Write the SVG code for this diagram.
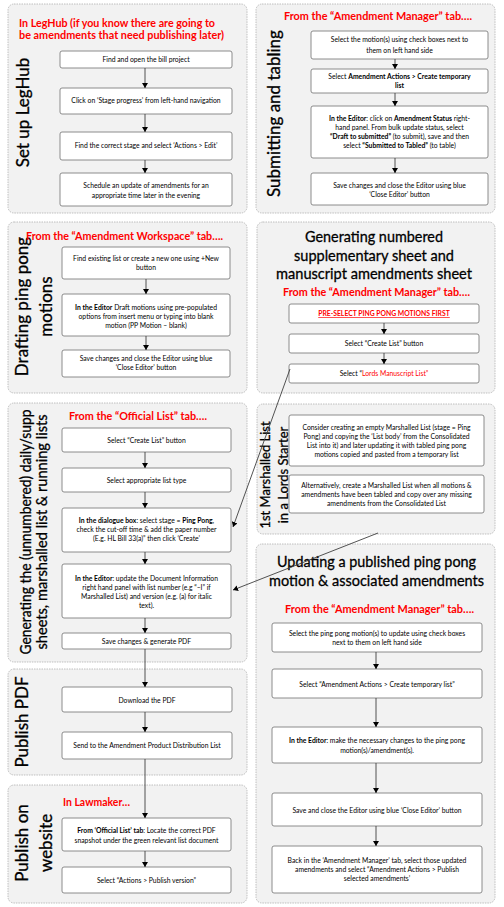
<svg xmlns="http://www.w3.org/2000/svg" width="504" height="907" viewBox="0 0 504 907">
<defs>
<marker id="ah" markerWidth="6" markerHeight="6" refX="5" refY="3" orient="auto" markerUnits="userSpaceOnUse">
<path d="M0,0 L5,3 L0,6 Z" fill="#000"/>
</marker>
<style>
.panel{fill:#f2f2f2;stroke:#b0b0b0;stroke-width:0.8;stroke-dasharray:1.5 1}
.box{fill:#fff;stroke:#7f7f7f;stroke-width:0.9}
.t{font-family:Lato,"Liberation Sans",sans-serif;font-size:6.8px;text-anchor:middle;fill:#000}
.b{font-weight:bold}
.red{font-family:Lato,"Liberation Sans",sans-serif;font-weight:bold;font-size:11px;fill:#ff0000}
.vt{font-family:Lato,"Open Sans",sans-serif;font-size:17px;text-anchor:middle;fill:#000;stroke:#000;stroke-width:0.3}
.ht{font-family:Lato,"Open Sans",sans-serif;font-size:16px;text-anchor:middle;fill:#000;stroke:#000;stroke-width:0.3}
.c{stroke:#404040;stroke-width:0.9;fill:none;marker-end:url(#ah)}
</style>
</defs>
<rect width="504" height="907" fill="#fff"/>

<!-- Panel 1 -->
<g id="panel-setup">
<rect class="panel" x="8" y="4" width="239" height="209" rx="6"/>
<text class="red" x="19" y="27" textLength="196" lengthAdjust="spacingAndGlyphs">In LegHub (if you know there are going to</text>
<text class="red" x="19" y="39" textLength="205" lengthAdjust="spacingAndGlyphs">be amendments that need publishing later)</text>
<text class="vt" transform="translate(29,112.5) rotate(-90)">Set up LegHub</text>
</g>
<g id="n1-1"><rect class="box" x="60" y="51" width="172" height="17" rx="2"/><text class="t" x="146" y="62">Find and open the bill project</text></g>
<g id="n1-2"><rect class="box" x="60" y="88" width="172" height="26" rx="2"/><text class="t" x="146" y="103">Click on ‘Stage progress’ from  left-hand navigation</text></g>
<g id="n1-3"><rect class="box" x="60" y="132" width="172" height="28" rx="2"/><text class="t" x="146" y="148">Find the correct stage  and select ‘Actions &gt; Edit’</text></g>
<g id="n1-4"><rect class="box" x="60" y="173" width="172" height="33" rx="2"/><text class="t" x="146" y="187.5">Schedule an update of amendments for an</text><text class="t" x="146" y="197.5">appropriate time later in the evening</text></g>

<!-- Panel 2 -->
<g id="panel-submit">
<rect class="panel" x="256" y="4" width="239" height="209" rx="6"/>
<text class="red" x="378" y="20" text-anchor="middle" textLength="188" lengthAdjust="spacingAndGlyphs">From the “Amendment Manager” tab….</text>
<text class="vt" transform="translate(280,113.5) rotate(-90)">Submitting and tabling</text>
</g>
<g id="n2-1"><rect class="box" x="311" y="31" width="177" height="28" rx="2"/><text class="t" x="399.5" y="41.5">Select the motion(s) using check boxes next to</text><text class="t" x="399.5" y="52.5">them on left hand side</text></g>
<g id="n2-2"><rect class="box" x="311" y="69" width="177" height="24" rx="2"/><text class="t" x="399.5" y="79">Select <tspan class="b">Amendment Actions &gt; Create temporary</tspan></text><text class="t b" x="399.5" y="88">list</text></g>
<g id="n2-3"><rect class="box" x="311" y="106" width="177" height="52" rx="2"/>
<text class="t" x="399.5" y="120.5"><tspan class="b">In the Editor</tspan>: click on <tspan class="b">Amendment Status</tspan> right-</text>
<text class="t" x="399.5" y="129.5">hand panel. From bulk update status, select</text>
<text class="t" x="399.5" y="139"><tspan class="b">“Draft to submitted”</tspan> (to submit), save and then</text>
<text class="t" x="399.5" y="148">select <tspan class="b">“Submitted to Tabled”</tspan> (to table)</text></g>
<g id="n2-4"><rect class="box" x="311" y="173" width="177" height="32" rx="2"/><text class="t" x="399.5" y="187.5">Save changes and close the Editor using blue</text><text class="t" x="399.5" y="196.5">‘Close Editor’ button</text></g>

<!-- Panel 3 -->
<g id="panel-draft">
<rect class="panel" x="8" y="222" width="239" height="171" rx="6"/>
<text class="vt" transform="translate(28,306.5) rotate(-90)">Drafting ping pong</text>
<text class="vt" transform="translate(52,306.5) rotate(-90)">motions</text>
<text class="red" x="124.5" y="240" text-anchor="middle" textLength="197" lengthAdjust="spacingAndGlyphs">From the “Amendment Workspace” tab….</text>
</g>
<g id="n3-1"><rect class="box" x="62" y="247" width="168" height="32" rx="2"/><text class="t" x="146" y="260.5">Find existing list or create a new one using +New</text><text class="t" x="146" y="269.5">button</text></g>
<g id="n3-2"><rect class="box" x="62" y="294" width="168" height="42" rx="2"/><text class="t" x="146" y="309.5"><tspan class="b">In the Editor</tspan>  Draft motions using pre-populated</text><text class="t" x="146" y="318.5">options from insert menu or typing into blank</text><text class="t" x="146" y="327.5">motion (PP Motion – blank)</text></g>
<g id="n3-3"><rect class="box" x="62" y="350" width="168" height="27" rx="2"/><text class="t" x="146" y="360.5">Save changes  and close the Editor using blue</text><text class="t" x="146" y="370">‘Close Editor’ button</text></g>

<!-- Panel 4 -->
<g id="panel-numbered">
<rect class="panel" x="257" y="222" width="238" height="171" rx="6"/>
<text class="ht" x="374" y="241.5" textLength="138" lengthAdjust="spacingAndGlyphs">Generating numbered</text>
<text class="ht" x="374" y="260.5" textLength="160" lengthAdjust="spacingAndGlyphs">supplementary sheet and</text>
<text class="ht" x="374" y="278.5" textLength="196" lengthAdjust="spacingAndGlyphs">manuscript amendments sheet</text>
<text class="red" x="376.5" y="296" text-anchor="middle" textLength="187" lengthAdjust="spacingAndGlyphs">From the “Amendment Manager” tab….</text>
</g>
<g id="n4-1"><rect class="box" x="289" y="304" width="190" height="19" rx="2"/><text class="t b" x="384" y="316" style="fill:#ff0000;text-decoration:underline">PRE-SELECT PING PONG MOTIONS FIRST</text></g>
<g id="n4-2"><rect class="box" x="289" y="334" width="190" height="19" rx="2"/><text class="t" x="384" y="345.5">Select “Create List” button</text></g>
<g id="n4-3"><rect class="box" x="289" y="364" width="190" height="19" rx="2"/><text class="t" x="384" y="375.5">Select “<tspan style="fill:#ff0000">Lords Manuscript List”</tspan></text></g>

<!-- Panel 5 -->
<g id="panel-marshalled">
<rect class="panel" x="257" y="404" width="238" height="130" rx="6"/>
<text class="vt" style="font-size:13px" transform="translate(270,475) rotate(-90)">1st Marshalled List</text>
<text class="vt" style="font-size:13px" transform="translate(288,475) rotate(-90)">in a Lords Starter</text>
</g>
<g id="n5-1"><rect class="box" x="289" y="415" width="195" height="51" rx="2"/>
<text class="t" x="386.5" y="429.5">Consider creating an empty Marshalled List (stage = Ping</text>
<text class="t" x="386.5" y="438.5">Pong) and copying the ‘List body’ from the Consolidated</text>
<text class="t" x="386.5" y="447.5">List into it) and later updating it with tabled ping pong</text>
<text class="t" x="386.5" y="456.5">motions copied and pasted from a temporary list</text></g>
<g id="n5-2"><rect class="box" x="289" y="475" width="195" height="38" rx="2"/>
<text class="t" x="386.5" y="487.5">Alternatively, create a Marshalled List when all motions &amp;</text>
<text class="t" x="386.5" y="496.5">amendments have been tabled and copy over any missing</text>
<text class="t" x="386.5" y="505.5">amendments from the Consolidated List</text></g>

<!-- Panel 6 -->
<g id="panel-updating">
<rect class="panel" x="256" y="544" width="239" height="359" rx="6"/>
<text class="ht" x="376.5" y="567" textLength="199" lengthAdjust="spacingAndGlyphs">Updating a published ping pong</text>
<text class="ht" x="376.5" y="586" textLength="215" lengthAdjust="spacingAndGlyphs">motion &amp; associated amendments</text>
<text class="red" x="379.5" y="613" text-anchor="middle" textLength="189" lengthAdjust="spacingAndGlyphs">From the “Amendment Manager” tab….</text>
</g>
<g id="n6-1"><rect class="box" x="272" y="623" width="210" height="29" rx="2"/><text class="t" x="377" y="635.5">Select the ping pong motion(s) to update using check boxes</text><text class="t" x="377" y="644.5">next to them on left hand side</text></g>
<g id="n6-2"><rect class="box" x="272" y="669" width="210" height="29" rx="2"/><text class="t" x="377" y="686.5">Select “Amendment Actions &gt; Create temporary list”</text></g>
<g id="n6-3"><rect class="box" x="272" y="727" width="210" height="36" rx="2"/><text class="t" x="377" y="742.5"><tspan class="b">In the Editor</tspan>: make the necessary changes to the ping pong</text><text class="t" x="377" y="753">motion(s)/amendment(s).</text></g>
<g id="n6-4"><rect class="box" x="272" y="793" width="210" height="33" rx="2"/><text class="t" x="377" y="812.5">Save and close the Editor using blue ‘Close Editor’ button</text></g>
<g id="n6-5"><rect class="box" x="272" y="846" width="210" height="47" rx="2"/><text class="t" x="377" y="862.5">Back in the ‘Amendment Manager’ tab, select those updated</text><text class="t" x="377" y="871.5">amendments and select “Amendment Actions &gt; Publish</text><text class="t" x="377" y="881">selected amendments’</text></g>

<!-- Panel 7 -->
<g id="panel-unnumbered">
<rect class="panel" x="8" y="403" width="239" height="259" rx="6"/>
<text class="vt" style="font-size:15px" transform="translate(31,532) rotate(-90)" textLength="245" lengthAdjust="spacingAndGlyphs">Generating the (unnumbered) daily/supp</text>
<text class="vt" style="font-size:15px" transform="translate(47,532) rotate(-90)" textLength="235" lengthAdjust="spacingAndGlyphs">sheets, marshalled list &amp; running lists</text>
<text class="red" x="138" y="420" text-anchor="middle" textLength="138" lengthAdjust="spacingAndGlyphs">From the “Official List” tab….</text>
</g>
<g id="n7-1"><rect class="box" x="62" y="428" width="169" height="24" rx="2"/><text class="t" x="146.5" y="442.5">Select “Create List” button</text></g>
<g id="n7-2"><rect class="box" x="62" y="468" width="169" height="24" rx="2"/><text class="t" x="146.5" y="483">Select appropriate list type</text></g>
<g id="n7-3"><rect class="box" x="62" y="508" width="169" height="44" rx="2"/><text class="t" x="146.5" y="523"><tspan class="b">In the dialogue box</tspan>: select stage = <tspan class="b">Ping Pong</tspan>,</text><text class="t" x="146.5" y="532">check the cut-off time &amp; add the paper number</text><text class="t" x="146.5" y="540.5">(E.g. HL Bill 33(a)” then click ‘Create’</text></g>
<g id="n7-4"><rect class="box" x="62" y="564" width="169" height="54" rx="2"/><text class="t" x="146.5" y="580.5"><tspan class="b">In the Editor</tspan>: update the Document Information</text><text class="t" x="146.5" y="589.5">right hand panel with list number (e.g “–I” if</text><text class="t" x="146.5" y="599">Marshalled List) and version (e.g. (a) for italic</text><text class="t" x="146.5" y="608">text).</text></g>
<g id="n7-5"><rect class="box" x="62" y="633" width="169" height="16" rx="2"/><text class="t" x="146.5" y="643.5">Save changes &amp; generate PDF</text></g>

<!-- Panel 8 -->
<g id="panel-pdf">
<rect class="panel" x="8" y="669" width="239" height="106" rx="6"/>
<text class="vt" transform="translate(28,722) rotate(-90)">Publish PDF</text>
</g>
<g id="n8-1"><rect class="box" x="62" y="687" width="170" height="25" rx="2"/><text class="t" x="147" y="702.5">Download the PDF</text></g>
<g id="n8-2"><rect class="box" x="62" y="732" width="170" height="27" rx="2"/><text class="t" x="147" y="747.5">Send to the Amendment Product Distribution List</text></g>

<!-- Panel 9 -->
<g id="panel-website">
<rect class="panel" x="8" y="785" width="239" height="118" rx="6"/>
<text class="vt" transform="translate(28,843) rotate(-90)">Publish on</text>
<text class="vt" transform="translate(52,843) rotate(-90)">website</text>
<text class="red" x="63" y="806" textLength="67" lengthAdjust="spacingAndGlyphs">In Lawmaker…</text>
</g>
<g id="n9-1"><rect class="box" x="62" y="818" width="169" height="33" rx="2"/><text class="t" x="146.5" y="832.5"><tspan class="b">From ‘Official List’ tab</tspan>: Locate the correct PDF</text><text class="t" x="146.5" y="842.5">snapshot under the green relevant list document</text></g>
<g id="n9-2"><rect class="box" x="62" y="867" width="169" height="26" rx="2"/><text class="t" x="146.5" y="882.5">Select “Actions &gt; Publish version”</text></g>

<!-- Connectors -->
<g id="connectors">
<line class="c" x1="145" y1="68" x2="145" y2="88"/>
<line class="c" x1="145" y1="114" x2="145" y2="132"/>
<line class="c" x1="145" y1="160" x2="145" y2="173"/>
<line class="c" x1="395" y1="59" x2="395" y2="69"/>
<line class="c" x1="395" y1="93" x2="395" y2="106"/>
<line class="c" x1="395" y1="158" x2="395" y2="173"/>
<line class="c" x1="146" y1="279" x2="146" y2="294"/>
<line class="c" x1="146" y1="336" x2="146" y2="350"/>
<line class="c" x1="384" y1="323" x2="384" y2="334"/>
<line class="c" x1="384" y1="353" x2="384" y2="364"/>
<line class="c" x1="376" y1="652" x2="376" y2="669"/>
<line class="c" x1="376" y1="698" x2="376" y2="727"/>
<line class="c" x1="376" y1="763" x2="376" y2="793"/>
<line class="c" x1="376" y1="826" x2="376" y2="846"/>
<line class="c" x1="145" y1="452" x2="145" y2="468"/>
<line class="c" x1="145" y1="492" x2="145" y2="508"/>
<line class="c" x1="145" y1="552" x2="145" y2="564"/>
<line class="c" x1="145" y1="618" x2="145" y2="633"/>
<line class="c" x1="145" y1="649" x2="145" y2="687"/>
<line class="c" x1="145" y1="712" x2="145" y2="732"/>
<line class="c" x1="145" y1="759" x2="145" y2="818"/>
<line class="c" x1="145" y1="851" x2="145" y2="867"/>
<line class="c" x1="290" y1="369" x2="233" y2="527"/>
<line class="c" x1="378" y1="533" x2="233" y2="590"/>
</g>
</svg>
